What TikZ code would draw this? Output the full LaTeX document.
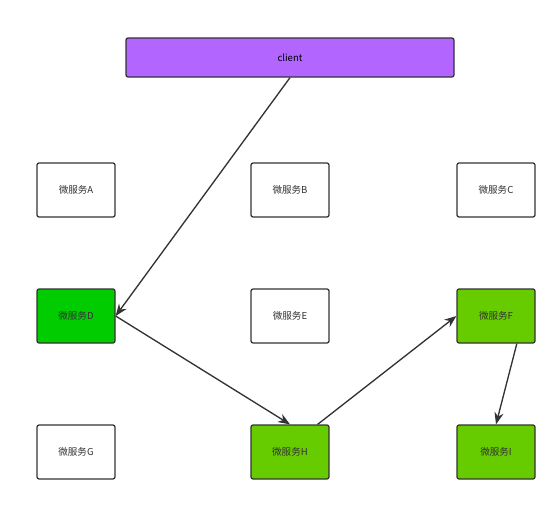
\documentclass[tikz,border=0pt]{standalone}
\usepackage{fontspec}
\newfontfamily\cjk{Noto Sans CJK SC}
\usepackage{tikz}
\usetikzlibrary{positioning,arrows.meta}

\definecolor{clientpurple}{HTML}{B266FF}
\definecolor{callgreen}{HTML}{00CC00}
\definecolor{pathgreen}{HTML}{66CC00}
\definecolor{edgegray}{HTML}{333333}
\definecolor{textgray}{HTML}{333333}

\begin{document}
\begin{tikzpicture}[
  font=\cjk\fontsize{6.8}{8}\selectfont,
  >={Stealth[length=3mm,width=2.3mm]},
  svcnode/.style={rectangle, draw=edgegray, line width=0.9pt, rounded corners=1.5pt, fill=white, text=textgray, minimum width=1.95cm, minimum height=1.35cm, inner sep=1pt},
  clientnode/.style={svcnode, fill=clientpurple, text=black, minimum width=8.2cm, minimum height=0.975cm},
  callmap/.style={->, draw=edgegray, line width=0.95pt}
]
  \useasboundingbox (0,0) rectangle (14,12.6);
  \node[clientnode] (client) at (7.25,11.1625) {client};
  \node[svcnode] (svcA) at (1.90,7.85) {微服务A};
  \node[svcnode] (svcB) at (7.25,7.85) {微服务B};
  \node[svcnode] (svcC) at (12.40,7.85) {微服务C};
  \node[svcnode, fill=callgreen] (svcD) at (1.90,4.70) {微服务D};
  \node[svcnode] (svcE) at (7.25,4.70) {微服务E};
  \node[svcnode, fill=pathgreen] (svcF) at (12.40,4.70) {微服务F};
  \node[svcnode] (svcG) at (1.90,1.30) {微服务G};
  \node[svcnode, fill=pathgreen] (svcH) at (7.25,1.30) {微服务H};
  \node[svcnode, fill=pathgreen] (svcI) at (12.40,1.30) {微服务I};
  \draw[callmap] (client.south) -- (svcD.east);
  \draw[callmap] (svcD.east) -- (svcH.north);
  \draw[callmap] (svcH.45) -- (svcF.west);
  \draw[callmap] (svcF.-53) -- (svcI.north);
\end{tikzpicture}
\end{document}
